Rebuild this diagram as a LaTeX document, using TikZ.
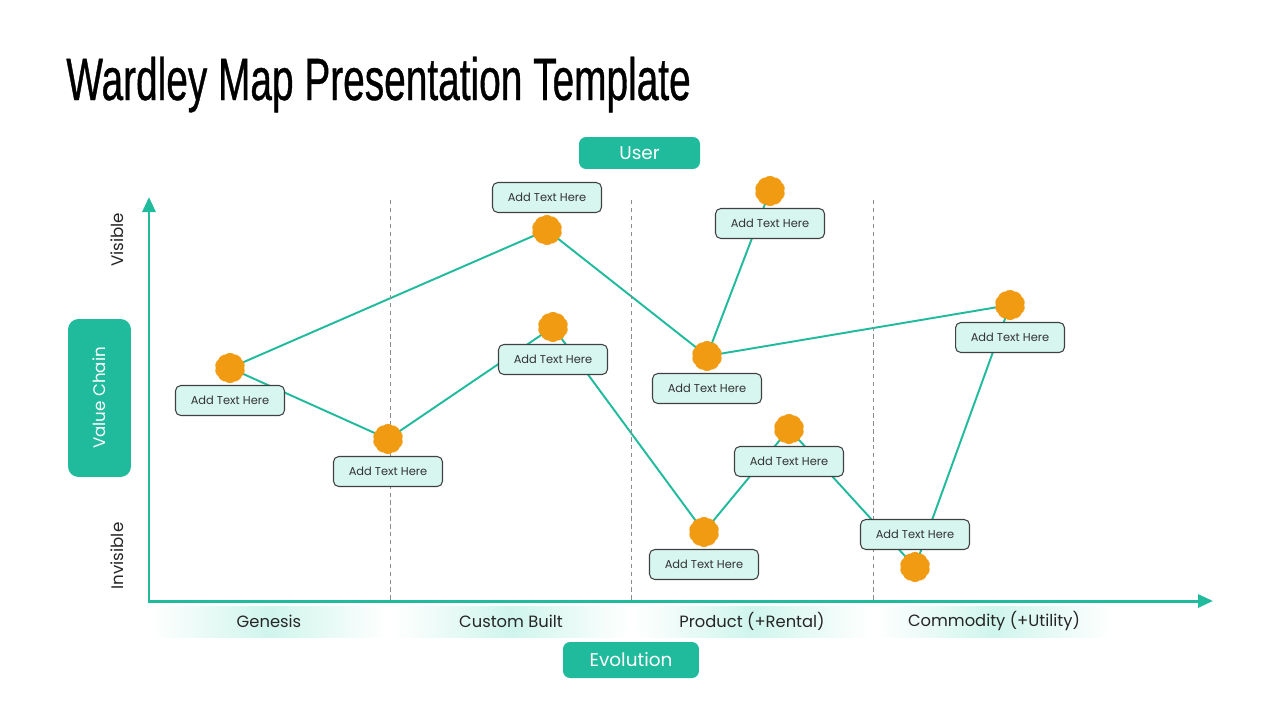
\documentclass[tikz,border=0pt]{standalone}
\usepackage{fontspec}
\setmainfont{Poppins}
\newfontfamily\titlefont[FakeStretch=0.65, FakeBold=0.6]{Liberation Sans}
\usetikzlibrary{shapes.geometric, arrows.meta, positioning, backgrounds}
\definecolor{mapteal}{RGB}{32,187,156}
\definecolor{mintfill}{RGB}{214,246,239}
\definecolor{huborange}{RGB}{240,155,18}
\definecolor{bandmint}{RGB}{207,245,236}
\tikzset{
    txtbox/.style={rectangle, rounded corners=3pt, draw=black!75, line width=0.6pt,
                   fill=mintfill, minimum width=2.18cm, minimum height=0.6cm,
                   inner sep=0pt, font=\fontsize{6.5}{8}\selectfont, text=black!80},
    hub/.style={star, star points=10, star point ratio=1.24, rounded corners=2pt,
                fill=huborange, minimum size=0.66cm, inner sep=0pt},
    tagbox/.style={rectangle, rounded corners=4pt, fill=mapteal, text=white,
                   inner sep=0pt, font=\fontsize{10.5}{12}\selectfont},
    axisarrow/.style={-{Triangle[length=0.3cm, width=0.26cm]}, line width=1.7pt, draw=mapteal},
    linkline/.style={draw=mapteal, line width=1.1pt},
    divider/.style={draw=black!45, line width=0.5pt, dash pattern=on 2.5pt off 2pt},
    stagelbl/.style={font=\fontsize{9.3}{11}\selectfont, text=black!85},
    sidelbl/.style={font=\fontsize{9.5}{11}\selectfont, rotate=90, text=black!85},
}

\begin{document}
\begin{tikzpicture}[x=0.02cm, y=-0.02cm]
    \useasboundingbox (0,0) rectangle (1280,720);
    \node[anchor=base west, inner sep=0pt, font=\titlefont\fontsize{34}{40}\selectfont]
        (title) at (66,100) {Wardley Map Presentation Template};

    % stage bands along the evolution axis
    \foreach \cx/\lbl/\nm in {269/Genesis/gen, 511/Custom Built/cus,
                              752/Product (+Rental)/pro, 994/Commodity (+Utility)/com} {
        \shade[left color=white, right color=white, middle color=bandmint]
            (\cx-118,606) rectangle (\cx+118,637);
        \node[stagelbl] (\nm) at (\cx,621) {\lbl};
    }
    \foreach \dx in {390,631,873}
        \draw[divider] (\dx,200) -- (\dx,601);

    % axes
    \coordinate (origin) at (149,602);
    \coordinate (ytip) at (149,197);
    \coordinate (xtip) at (1213,601);
    \draw[axisarrow] (origin) -- (ytip);
    \draw[axisarrow] ([xshift=-0.85pt]origin |- xtip) -- (xtip);

    \node[sidelbl] (vis) at (117,240) {Visible};
    \node[sidelbl] (invis) at (117,556) {Invisible};
    \node[tagbox, rotate=90, minimum width=3.16cm, minimum height=1.26cm,
          rounded corners=6pt, font=\fontsize{9.5}{11}\selectfont]
        (vchain) at (99.5,398) {Value Chain};
    \node[tagbox, minimum width=2.42cm, minimum height=0.64cm] (user) at (639.5,153) {User};
    \node[tagbox, minimum width=2.72cm, minimum height=0.72cm] (evo) at (631,660) {Evolution};

    % components
    \node[hub] (h1) at (230,368) {};
    \node[hub] (h2) at (388,439) {};
    \node[hub] (h3) at (553,327) {};
    \node[hub] (h4) at (547,230) {};
    \node[hub] (h5) at (707,356) {};
    \node[hub] (h6) at (770,191) {};
    \node[hub] (h7) at (1010,305) {};
    \node[hub] (h8) at (789,429) {};
    \node[hub] (h9) at (704,532) {};
    \node[hub] (h10) at (915,567) {};

    \node[txtbox, below=0pt of h1] (t1) {Add Text Here};
    \node[txtbox, below=0pt of h2] (t2) {Add Text Here};
    \node[txtbox, below=0pt of h3] (t3) {Add Text Here};
    \node[txtbox, above=0pt of h4] (t4) {Add Text Here};
    \node[txtbox, below=0pt of h5] (t5) {Add Text Here};
    \node[txtbox, below=0pt of h6] (t6) {Add Text Here};
    \node[txtbox, below=0pt of h7] (t7) {Add Text Here};
    \node[txtbox, below=0pt of h8] (t8) {Add Text Here};
    \node[txtbox, below=0pt of h9] (t9) {Add Text Here};
    \node[txtbox, above=0pt of h10] (t10) {Add Text Here};

    \begin{scope}[on background layer]
        \fill[white] (0,0) rectangle (1280,720);
        \draw[linkline] (h1.center) -- (h4.center) -- (h5.center) -- (h6.center);
        \draw[linkline] (h1.center) -- (h2.center) -- (h3.center) -- (h9.center)
            -- (h8.center) -- (h10.center) -- (h7.center) -- (h5.center);
    \end{scope}
\end{tikzpicture}
\end{document}
